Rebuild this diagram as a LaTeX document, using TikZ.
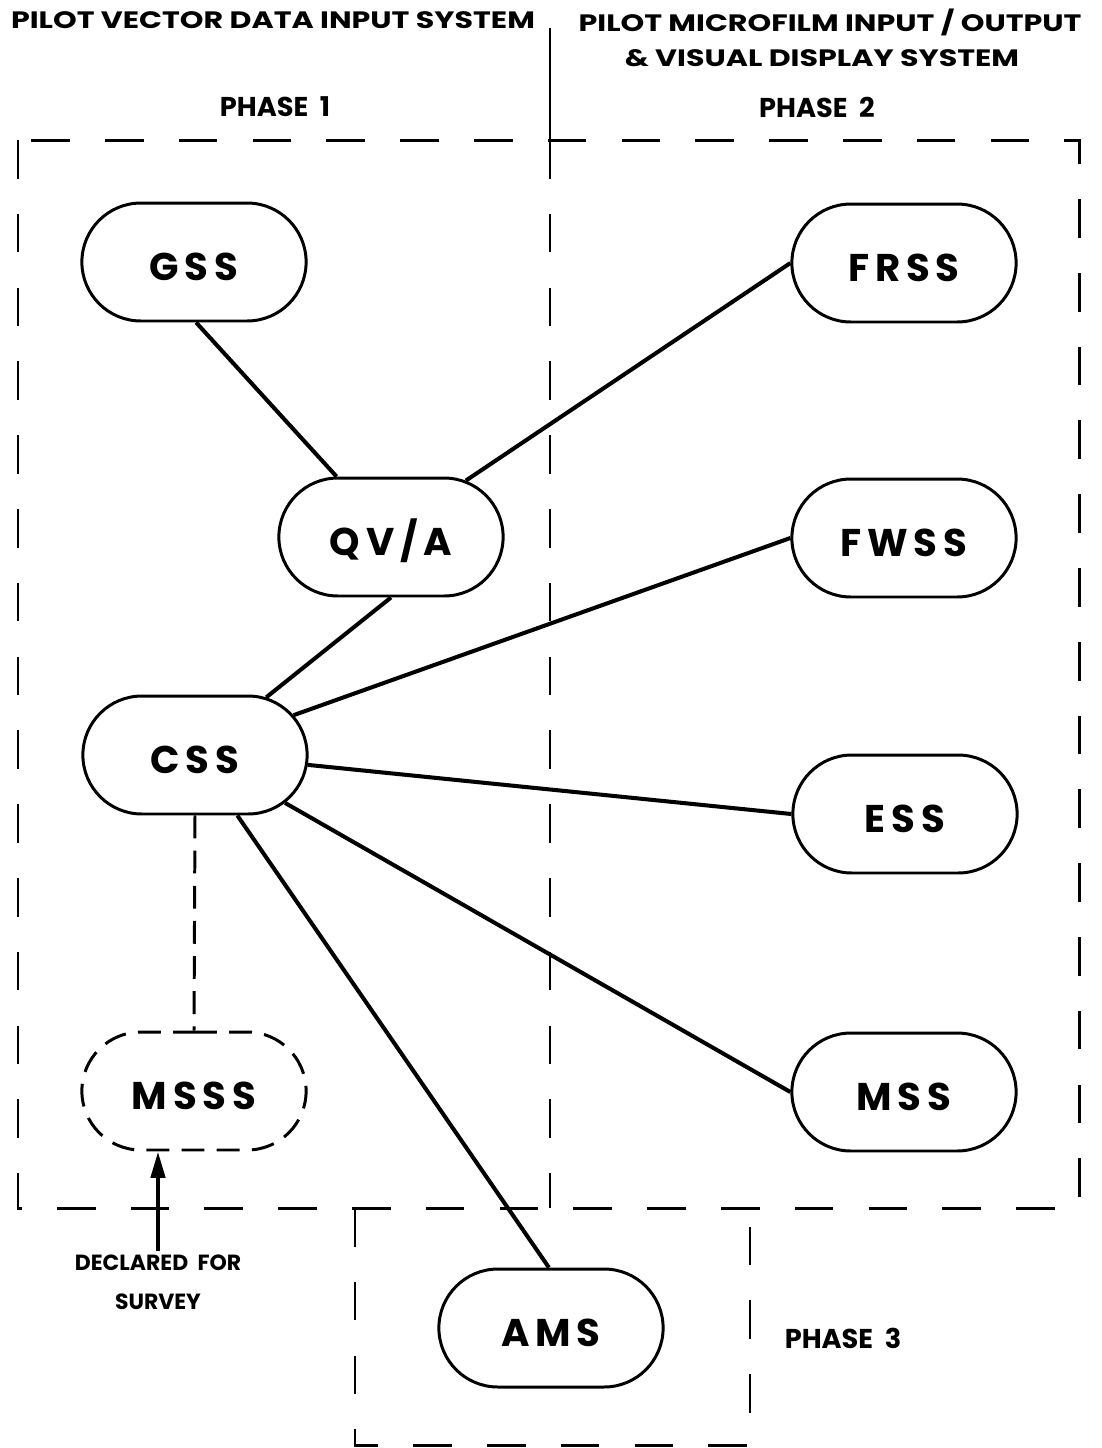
\documentclass[tikz,border=0pt]{standalone}
\usepackage{fontspec}
\setmainfont{Poppins}
\newfontfamily\headfont{Poppins}[FakeStretch=1.27]
\newfontfamily\boxfont{Poppins}[LetterSpace=15]
\usetikzlibrary{shapes.misc,arrows.meta}
\tikzset{
  unit/.style={rounded rectangle, draw, line width=1.7pt, minimum width=4.72cm,
    minimum height=2.36cm, text height=21.5pt, text depth=0pt,
    font=\boxfont\bfseries\fontsize{22}{26}\selectfont},
  plan/.style={unit, dash pattern=on 13pt off 7pt},
  link/.style={line width=2.3pt},
  frame/.style={line width=1.7pt, dash pattern=on 22pt off 20pt},
  heading/.style={font=\headfont\bfseries\fontsize{13.5}{15}\selectfont},
  phase/.style={font=\bfseries\fontsize{15.5}{18}\selectfont},
  note/.style={font=\bfseries\fontsize{12.5}{22}\selectfont, align=center, inner sep=2pt}
}
\begin{document}
\begin{tikzpicture}[x=0.02cm,y=-0.02cm]
\useasboundingbox (0,0) rectangle (1102,1448);
% titles
\node[heading] (vector) at (273,20) {PILOT VECTOR DATA INPUT SYSTEM};
\node[heading] (micro) at (830,22) {PILOT MICROFILM INPUT / OUTPUT};
\node[heading] (visual) at (822,58) {\& VISUAL DISPLAY SYSTEM};
\node[phase] (phaseone) at (275,107) {PHASE\ \ 1};
\node[phase] (phasetwo) at (817,107) {PHASE\ \ 2};
\node[phase] (phasethree) at (843,1338) {PHASE\ \ 3};
% phase frames
\draw[line width=1.7pt] (550,28) -- (550,140);
\draw[frame] (18,140) rectangle (1079,1208);
\draw[frame] (550,140) -- (550,1208);
\draw[frame] (355,1208) -- (355,1445) -- (750,1445) -- (750,1208);
% subsystems
\node[unit] (gss) at (194,262) {GSS};
\node[unit] (qva) at (391,537) {QV/A};
\node[unit] (css) at (195,755) {CSS};
\node[plan] (msss) at (194,1091) {MSSS};
\node[unit] (frss) at (904,263) {FRSS};
\node[unit] (fwss) at (904,538) {FWSS};
\node[unit] (ess) at (905,814) {ESS};
\node[unit] (mss) at (904,1092) {MSS};
\node[unit] (ams) at (551,1328) {AMS};
\node[note] (declared) at (158,1282) {DECLARED\ \ FOR\\SURVEY};
% links
\draw[link] (gss.-88) -- (qva.132);
\draw[link] (qva.37) -- (frss.west);
\draw[link] (qva.south) -- (css.39);
\draw[link] (css.22) -- (fwss.west);
\draw[link] (css.-5) -- (ess.west);
\draw[link] (css.-28) -- (mss.west);
\draw[link] (css.-55) -- (ams.92);
\draw[line width=1.7pt, dash pattern=on 13pt off 7pt] (css.south) -- (msss.north);
\draw[line width=2.4pt, -{Triangle[length=15pt,width=8pt]}] (declared.north) -- (declared.north |- msss.south);
\end{tikzpicture}
\end{document}
